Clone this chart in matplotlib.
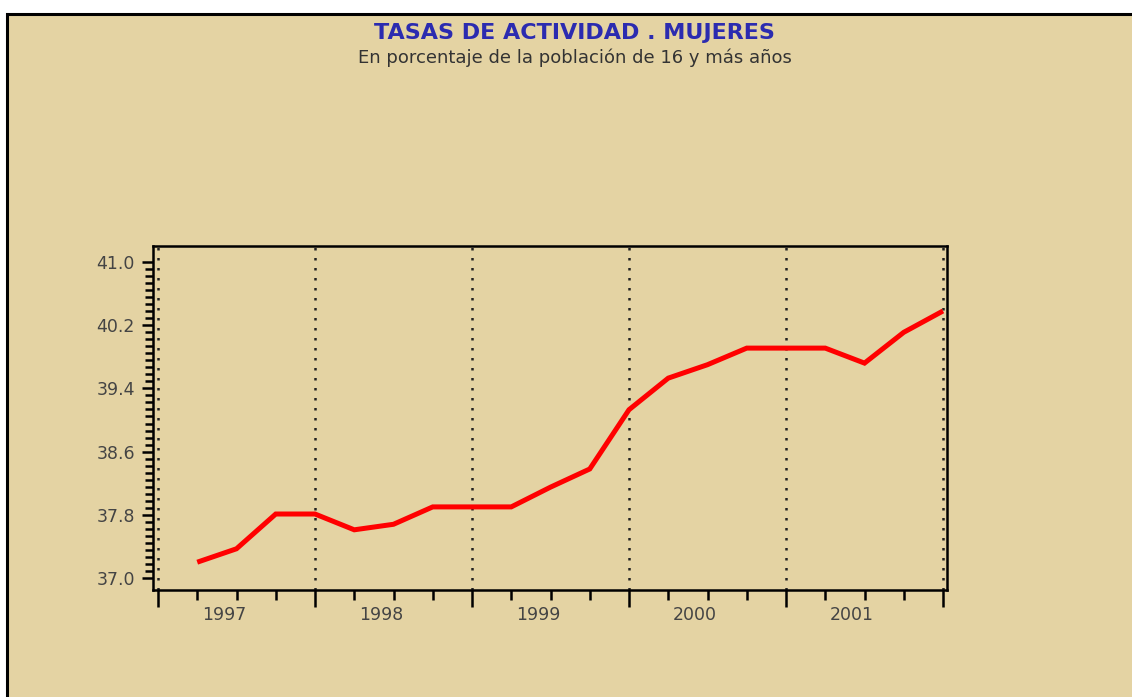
import numpy as np
import matplotlib
matplotlib.use("Agg")
import matplotlib.pyplot as plt
from matplotlib.patches import Rectangle
from matplotlib.ticker import FixedLocator, FormatStrFormatter
from matplotlib.transforms import blended_transform_factory

# Data (quarterly, plotted at the end of each quarter)
years = [1997, 1998, 1999, 2000, 2001]
quarters = [1, 2, 3, 4]
rates = [37.20, 37.37, 37.81, 37.81,
         37.61, 37.68, 37.90, 37.90,
         37.90, 38.15, 38.38, 39.13,
         39.53, 39.70, 39.91, 39.91,
         39.91, 39.72, 40.11, 40.38]
year_labels = ["1997", "1998", "1999", "2000", "2001"]
y_major = [37.0, 37.8, 38.6, 39.4, 40.2, 41.0]

title = "TASAS DE ACTIVIDAD . MUJERES"
subtitle = "En porcentaje de la población de 16 y más años"

bg = "#E4D3A3"
W, H = 1132, 697

fig = plt.figure(figsize=(W / 100, H / 100), dpi=100, facecolor="white")
# tan panel with black top/left border
fig.patches.append(Rectangle((7 / W, -0.05), 1.1, (H - 14) / H + 0.05,
                             transform=fig.transFigure, facecolor=bg,
                             edgecolor="black", linewidth=2.2, zorder=-10))

ax = fig.add_axes([153 / W, (H - 590) / H, (947 - 153) / W, (590 - 246) / H])
ax.set_zorder(5)
ax.patch.set_alpha(0)

xs = [y + q / 4 for y in years for q in quarters]
ax.plot(xs, rates, color="#FF0000", linewidth=3.6, solid_capstyle="butt",
        solid_joinstyle="miter", zorder=3)

x0 = years[0]
x1 = years[-1] + 1
ax.set_xlim(x0 - 5 / 157, x1 + 4 / 157)
ax.set_ylim(37.0 - 12 / 79, 41.0 + 16 / 79)

# vertical dotted lines at year boundaries
for yv in range(x0, x1 + 1):
    ax.axvline(yv, color="#222222", linewidth=1.8, linestyle=(0, (1, 3.0)), zorder=2)

# x ticks
ax.xaxis.set_major_locator(FixedLocator(list(range(x0, x1 + 1))))
ax.xaxis.set_minor_locator(FixedLocator([y + q / 4 for y in range(x0, x1) for q in (1, 2, 3)]))
ax.tick_params(axis="x", which="major", length=12, width=1.8, direction="out",
               labelbottom=False, color="black")
ax.tick_params(axis="x", which="minor", length=7, width=1.8, direction="out", color="black")

trans = blended_transform_factory(ax.transData, ax.transAxes)
for yv, lab in zip(years, year_labels):
    ax.text(yv + 0.42, -25 / 344, lab, transform=trans, ha="center", va="center",
            fontsize=12.5, color="#444444", family="DejaVu Sans")

# y ticks
ax.yaxis.set_major_locator(FixedLocator(y_major))
minors = []
for a, b in zip(y_major[:-1], y_major[1:]):
    minors.extend(list(np.linspace(a, b, 10)[1:-1]))
ax.yaxis.set_minor_locator(FixedLocator(minors))
ax.yaxis.set_major_formatter(FormatStrFormatter("%.1f"))
ax.tick_params(axis="y", which="major", length=8, width=1.8, direction="out",
               pad=5, labelsize=12.5, labelcolor="#444444", color="black")
ax.tick_params(axis="y", which="minor", length=6, width=1.8, direction="out", color="black")

for s in ax.spines.values():
    s.set_linewidth(1.8)
    s.set_color("black")

fig.text(574 / W, 1 - 33 / H, title, ha="center", va="center", fontsize=16,
         fontweight="bold", color="#2B2BB0", family="DejaVu Sans")
fig.text(575 / W, 1 - 58 / H, subtitle, ha="center", va="center", fontsize=13,
         color="#333333", family="DejaVu Sans")

fig.savefig("out.png", dpi=100, facecolor="white")
